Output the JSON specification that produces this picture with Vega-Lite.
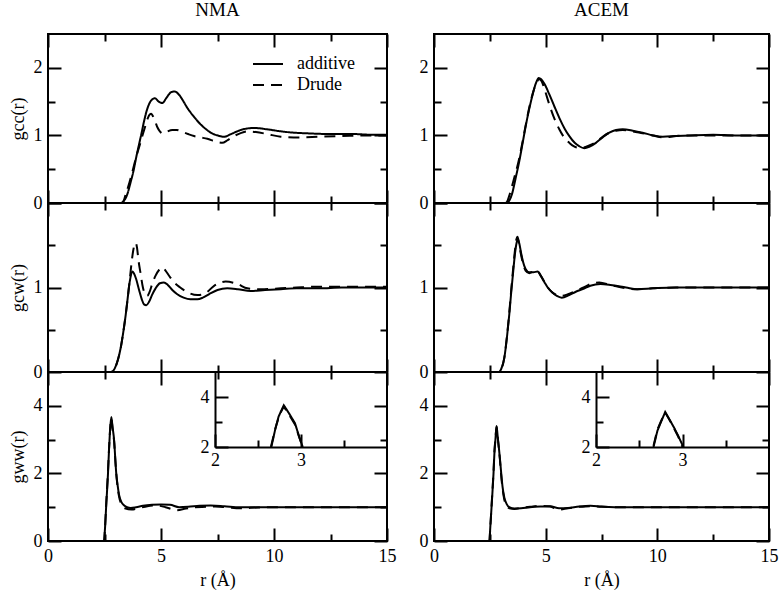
{
"$schema":"https://vega.github.io/schema/vega-lite/v6.json",
"background":"white",
"padding":{"left":8,"top":0,"right":0,"bottom":0},
"data":{"values":[
{"p":"ccN","m":"additive","r":0,"g":0},{"p":"ccN","m":"additive","r":3.2,"g":0},{"p":"ccN","m":"additive","r":3.35,"g":0.03},{"p":"ccN","m":"additive","r":3.51,"g":0.13},{"p":"ccN","m":"additive","r":3.65,"g":0.3},{"p":"ccN","m":"additive","r":3.78,"g":0.47},{"p":"ccN","m":"additive","r":3.9,"g":0.67},{"p":"ccN","m":"additive","r":4.03,"g":0.87},{"p":"ccN","m":"additive","r":4.15,"g":1.05},{"p":"ccN","m":"additive","r":4.25,"g":1.21},{"p":"ccN","m":"additive","r":4.4,"g":1.4},{"p":"ccN","m":"additive","r":4.55,"g":1.51},{"p":"ccN","m":"additive","r":4.73,"g":1.55},{"p":"ccN","m":"additive","r":4.9,"g":1.5},{"p":"ccN","m":"additive","r":5.06,"g":1.48},{"p":"ccN","m":"additive","r":5.25,"g":1.56},{"p":"ccN","m":"additive","r":5.45,"g":1.64},{"p":"ccN","m":"additive","r":5.6,"g":1.65},{"p":"ccN","m":"additive","r":5.8,"g":1.6},{"p":"ccN","m":"additive","r":6.0,"g":1.5},{"p":"ccN","m":"additive","r":6.16,"g":1.41},{"p":"ccN","m":"additive","r":6.45,"g":1.28},{"p":"ccN","m":"additive","r":6.76,"g":1.16},{"p":"ccN","m":"additive","r":7.0,"g":1.09},{"p":"ccN","m":"additive","r":7.2,"g":1.04},{"p":"ccN","m":"additive","r":7.5,"g":1.0},{"p":"ccN","m":"additive","r":7.79,"g":0.98},{"p":"ccN","m":"additive","r":8.1,"g":1.02},{"p":"ccN","m":"additive","r":8.53,"g":1.08},{"p":"ccN","m":"additive","r":9.11,"g":1.11},{"p":"ccN","m":"additive","r":9.7,"g":1.09},{"p":"ccN","m":"additive","r":10.3,"g":1.06},{"p":"ccN","m":"additive","r":10.9,"g":1.04},{"p":"ccN","m":"additive","r":11.5,"g":1.03},{"p":"ccN","m":"additive","r":12.6,"g":1.02},{"p":"ccN","m":"additive","r":13.5,"g":1.02},{"p":"ccN","m":"additive","r":14.3,"g":1.01},{"p":"ccN","m":"additive","r":15,"g":1.01},
{"p":"ccN","m":"Drude","r":0,"g":0},{"p":"ccN","m":"Drude","r":3.3,"g":0},{"p":"ccN","m":"Drude","r":3.44,"g":0.13},{"p":"ccN","m":"Drude","r":3.6,"g":0.3},{"p":"ccN","m":"Drude","r":3.74,"g":0.47},{"p":"ccN","m":"Drude","r":3.9,"g":0.68},{"p":"ccN","m":"Drude","r":4.07,"g":0.87},{"p":"ccN","m":"Drude","r":4.18,"g":1.0},{"p":"ccN","m":"Drude","r":4.28,"g":1.11},{"p":"ccN","m":"Drude","r":4.4,"g":1.24},{"p":"ccN","m":"Drude","r":4.5,"g":1.31},{"p":"ccN","m":"Drude","r":4.57,"g":1.32},{"p":"ccN","m":"Drude","r":4.65,"g":1.28},{"p":"ccN","m":"Drude","r":4.75,"g":1.2},{"p":"ccN","m":"Drude","r":4.84,"g":1.12},{"p":"ccN","m":"Drude","r":4.95,"g":1.06},{"p":"ccN","m":"Drude","r":5.05,"g":1.03},{"p":"ccN","m":"Drude","r":5.13,"g":1.03},{"p":"ccN","m":"Drude","r":5.3,"g":1.06},{"p":"ccN","m":"Drude","r":5.5,"g":1.08},{"p":"ccN","m":"Drude","r":5.7,"g":1.08},{"p":"ccN","m":"Drude","r":5.9,"g":1.06},{"p":"ccN","m":"Drude","r":6.2,"g":1.02},{"p":"ccN","m":"Drude","r":6.46,"g":0.99},{"p":"ccN","m":"Drude","r":6.75,"g":0.97},{"p":"ccN","m":"Drude","r":7.05,"g":0.95},{"p":"ccN","m":"Drude","r":7.4,"g":0.91},{"p":"ccN","m":"Drude","r":7.71,"g":0.89},{"p":"ccN","m":"Drude","r":7.95,"g":0.93},{"p":"ccN","m":"Drude","r":8.23,"g":0.99},{"p":"ccN","m":"Drude","r":8.5,"g":1.03},{"p":"ccN","m":"Drude","r":8.82,"g":1.06},{"p":"ccN","m":"Drude","r":9.2,"g":1.05},{"p":"ccN","m":"Drude","r":9.7,"g":1.02},{"p":"ccN","m":"Drude","r":10.3,"g":0.98},{"p":"ccN","m":"Drude","r":11.1,"g":0.97},{"p":"ccN","m":"Drude","r":12,"g":0.98},{"p":"ccN","m":"Drude","r":13,"g":0.99},{"p":"ccN","m":"Drude","r":14,"g":1.0},{"p":"ccN","m":"Drude","r":15,"g":1.0},
{"p":"ccA","m":"additive","r":0,"g":0},{"p":"ccA","m":"additive","r":3.25,"g":0},{"p":"ccA","m":"additive","r":3.38,"g":0.04},{"p":"ccA","m":"additive","r":3.49,"g":0.13},{"p":"ccA","m":"additive","r":3.65,"g":0.36},{"p":"ccA","m":"additive","r":3.82,"g":0.62},{"p":"ccA","m":"additive","r":3.96,"g":0.87},{"p":"ccA","m":"additive","r":4.09,"g":1.11},{"p":"ccA","m":"additive","r":4.25,"g":1.37},{"p":"ccA","m":"additive","r":4.42,"g":1.61},{"p":"ccA","m":"additive","r":4.56,"g":1.77},{"p":"ccA","m":"additive","r":4.69,"g":1.85},{"p":"ccA","m":"additive","r":4.8,"g":1.83},{"p":"ccA","m":"additive","r":4.95,"g":1.76},{"p":"ccA","m":"additive","r":5.16,"g":1.61},{"p":"ccA","m":"additive","r":5.4,"g":1.42},{"p":"ccA","m":"additive","r":5.61,"g":1.26},{"p":"ccA","m":"additive","r":5.85,"g":1.1},{"p":"ccA","m":"additive","r":6.06,"g":0.99},{"p":"ccA","m":"additive","r":6.3,"g":0.89},{"p":"ccA","m":"additive","r":6.5,"g":0.84},{"p":"ccA","m":"additive","r":6.73,"g":0.81},{"p":"ccA","m":"additive","r":6.95,"g":0.83},{"p":"ccA","m":"additive","r":7.25,"g":0.89},{"p":"ccA","m":"additive","r":7.55,"g":0.97},{"p":"ccA","m":"additive","r":7.85,"g":1.04},{"p":"ccA","m":"additive","r":8.15,"g":1.08},{"p":"ccA","m":"additive","r":8.45,"g":1.09},{"p":"ccA","m":"additive","r":8.9,"g":1.07},{"p":"ccA","m":"additive","r":9.34,"g":1.04},{"p":"ccA","m":"additive","r":9.8,"g":1.0},{"p":"ccA","m":"additive","r":10.24,"g":0.98},{"p":"ccA","m":"additive","r":10.84,"g":0.99},{"p":"ccA","m":"additive","r":11.5,"g":1.0},{"p":"ccA","m":"additive","r":12.5,"g":1.01},{"p":"ccA","m":"additive","r":13.5,"g":1.0},{"p":"ccA","m":"additive","r":15,"g":1.0},
{"p":"ccA","m":"Drude","r":0,"g":0},{"p":"ccA","m":"Drude","r":3.2,"g":0},{"p":"ccA","m":"Drude","r":3.3,"g":0.04},{"p":"ccA","m":"Drude","r":3.39,"g":0.13},{"p":"ccA","m":"Drude","r":3.6,"g":0.38},{"p":"ccA","m":"Drude","r":3.79,"g":0.62},{"p":"ccA","m":"Drude","r":3.95,"g":0.88},{"p":"ccA","m":"Drude","r":4.1,"g":1.14},{"p":"ccA","m":"Drude","r":4.27,"g":1.42},{"p":"ccA","m":"Drude","r":4.44,"g":1.64},{"p":"ccA","m":"Drude","r":4.6,"g":1.79},{"p":"ccA","m":"Drude","r":4.72,"g":1.83},{"p":"ccA","m":"Drude","r":4.82,"g":1.8},{"p":"ccA","m":"Drude","r":4.97,"g":1.66},{"p":"ccA","m":"Drude","r":5.16,"g":1.46},{"p":"ccA","m":"Drude","r":5.4,"g":1.24},{"p":"ccA","m":"Drude","r":5.61,"g":1.09},{"p":"ccA","m":"Drude","r":5.85,"g":0.96},{"p":"ccA","m":"Drude","r":6.06,"g":0.89},{"p":"ccA","m":"Drude","r":6.25,"g":0.84},{"p":"ccA","m":"Drude","r":6.43,"g":0.82},{"p":"ccA","m":"Drude","r":6.65,"g":0.82},{"p":"ccA","m":"Drude","r":6.95,"g":0.85},{"p":"ccA","m":"Drude","r":7.25,"g":0.9},{"p":"ccA","m":"Drude","r":7.55,"g":0.98},{"p":"ccA","m":"Drude","r":7.85,"g":1.04},{"p":"ccA","m":"Drude","r":8.15,"g":1.07},{"p":"ccA","m":"Drude","r":8.45,"g":1.08},{"p":"ccA","m":"Drude","r":8.9,"g":1.06},{"p":"ccA","m":"Drude","r":9.34,"g":1.03},{"p":"ccA","m":"Drude","r":9.8,"g":1.0},{"p":"ccA","m":"Drude","r":10.24,"g":0.97},{"p":"ccA","m":"Drude","r":10.84,"g":0.99},{"p":"ccA","m":"Drude","r":11.5,"g":1.0},{"p":"ccA","m":"Drude","r":12.5,"g":1.0},{"p":"ccA","m":"Drude","r":13.5,"g":1.0},{"p":"ccA","m":"Drude","r":15,"g":1.0},
{"p":"cwN","m":"additive","r":0,"g":0},{"p":"cwN","m":"additive","r":2.8,"g":0},{"p":"cwN","m":"additive","r":2.95,"g":0.04},{"p":"cwN","m":"additive","r":3.1,"g":0.15},{"p":"cwN","m":"additive","r":3.22,"g":0.29},{"p":"cwN","m":"additive","r":3.33,"g":0.47},{"p":"cwN","m":"additive","r":3.44,"g":0.68},{"p":"cwN","m":"additive","r":3.52,"g":0.86},{"p":"cwN","m":"additive","r":3.58,"g":1.0},{"p":"cwN","m":"additive","r":3.65,"g":1.12},{"p":"cwN","m":"additive","r":3.73,"g":1.19},{"p":"cwN","m":"additive","r":3.8,"g":1.17},{"p":"cwN","m":"additive","r":3.9,"g":1.1},{"p":"cwN","m":"additive","r":4.03,"g":0.97},{"p":"cwN","m":"additive","r":4.15,"g":0.86},{"p":"cwN","m":"additive","r":4.25,"g":0.8},{"p":"cwN","m":"additive","r":4.35,"g":0.79},{"p":"cwN","m":"additive","r":4.47,"g":0.83},{"p":"cwN","m":"additive","r":4.6,"g":0.91},{"p":"cwN","m":"additive","r":4.76,"g":0.99},{"p":"cwN","m":"additive","r":4.95,"g":1.05},{"p":"cwN","m":"additive","r":5.13,"g":1.06},{"p":"cwN","m":"additive","r":5.3,"g":1.03},{"p":"cwN","m":"additive","r":5.5,"g":0.97},{"p":"cwN","m":"additive","r":5.72,"g":0.92},{"p":"cwN","m":"additive","r":6.0,"g":0.88},{"p":"cwN","m":"additive","r":6.3,"g":0.86},{"p":"cwN","m":"additive","r":6.61,"g":0.86},{"p":"cwN","m":"additive","r":6.85,"g":0.88},{"p":"cwN","m":"additive","r":7.12,"g":0.92},{"p":"cwN","m":"additive","r":7.5,"g":0.97},{"p":"cwN","m":"additive","r":7.93,"g":0.99},{"p":"cwN","m":"additive","r":8.4,"g":0.98},{"p":"cwN","m":"additive","r":8.97,"g":0.96},{"p":"cwN","m":"additive","r":9.6,"g":0.97},{"p":"cwN","m":"additive","r":10.3,"g":0.98},{"p":"cwN","m":"additive","r":11,"g":0.99},{"p":"cwN","m":"additive","r":12,"g":0.99},{"p":"cwN","m":"additive","r":13,"g":1.0},{"p":"cwN","m":"additive","r":15,"g":1.0},
{"p":"cwN","m":"Drude","r":0,"g":0},{"p":"cwN","m":"Drude","r":2.8,"g":0},{"p":"cwN","m":"Drude","r":2.95,"g":0.04},{"p":"cwN","m":"Drude","r":3.1,"g":0.15},{"p":"cwN","m":"Drude","r":3.22,"g":0.29},{"p":"cwN","m":"Drude","r":3.33,"g":0.47},{"p":"cwN","m":"Drude","r":3.44,"g":0.68},{"p":"cwN","m":"Drude","r":3.53,"g":0.88},{"p":"cwN","m":"Drude","r":3.6,"g":1.05},{"p":"cwN","m":"Drude","r":3.68,"g":1.25},{"p":"cwN","m":"Drude","r":3.76,"g":1.42},{"p":"cwN","m":"Drude","r":3.83,"g":1.51},{"p":"cwN","m":"Drude","r":3.88,"g":1.53},{"p":"cwN","m":"Drude","r":3.94,"g":1.47},{"p":"cwN","m":"Drude","r":4.0,"g":1.33},{"p":"cwN","m":"Drude","r":4.1,"g":1.16},{"p":"cwN","m":"Drude","r":4.2,"g":1.0},{"p":"cwN","m":"Drude","r":4.3,"g":0.92},{"p":"cwN","m":"Drude","r":4.39,"g":0.9},{"p":"cwN","m":"Drude","r":4.5,"g":0.95},{"p":"cwN","m":"Drude","r":4.62,"g":1.05},{"p":"cwN","m":"Drude","r":4.76,"g":1.14},{"p":"cwN","m":"Drude","r":4.92,"g":1.21},{"p":"cwN","m":"Drude","r":5.06,"g":1.24},{"p":"cwN","m":"Drude","r":5.2,"g":1.2},{"p":"cwN","m":"Drude","r":5.38,"g":1.13},{"p":"cwN","m":"Drude","r":5.58,"g":1.06},{"p":"cwN","m":"Drude","r":5.85,"g":1.0},{"p":"cwN","m":"Drude","r":6.2,"g":0.94},{"p":"cwN","m":"Drude","r":6.61,"g":0.91},{"p":"cwN","m":"Drude","r":6.95,"g":0.93},{"p":"cwN","m":"Drude","r":7.35,"g":1.02},{"p":"cwN","m":"Drude","r":7.86,"g":1.07},{"p":"cwN","m":"Drude","r":8.4,"g":1.04},{"p":"cwN","m":"Drude","r":8.82,"g":0.99},{"p":"cwN","m":"Drude","r":9.4,"g":0.98},{"p":"cwN","m":"Drude","r":10.3,"g":0.99},{"p":"cwN","m":"Drude","r":11,"g":1.0},{"p":"cwN","m":"Drude","r":12,"g":1.01},{"p":"cwN","m":"Drude","r":13,"g":1.01},{"p":"cwN","m":"Drude","r":15,"g":1.01},
{"p":"cwA","m":"additive","r":0,"g":0},{"p":"cwA","m":"additive","r":2.9,"g":0},{"p":"cwA","m":"additive","r":3.0,"g":0.03},{"p":"cwA","m":"additive","r":3.15,"g":0.17},{"p":"cwA","m":"additive","r":3.27,"g":0.42},{"p":"cwA","m":"additive","r":3.37,"g":0.68},{"p":"cwA","m":"additive","r":3.46,"g":0.95},{"p":"cwA","m":"additive","r":3.55,"g":1.2},{"p":"cwA","m":"additive","r":3.63,"g":1.41},{"p":"cwA","m":"additive","r":3.7,"g":1.53},{"p":"cwA","m":"additive","r":3.76,"g":1.57},{"p":"cwA","m":"additive","r":3.82,"g":1.52},{"p":"cwA","m":"additive","r":3.9,"g":1.41},{"p":"cwA","m":"additive","r":3.98,"g":1.31},{"p":"cwA","m":"additive","r":4.1,"g":1.22},{"p":"cwA","m":"additive","r":4.27,"g":1.18},{"p":"cwA","m":"additive","r":4.45,"g":1.18},{"p":"cwA","m":"additive","r":4.64,"g":1.19},{"p":"cwA","m":"additive","r":4.8,"g":1.13},{"p":"cwA","m":"additive","r":4.95,"g":1.06},{"p":"cwA","m":"additive","r":5.09,"g":1.0},{"p":"cwA","m":"additive","r":5.3,"g":0.94},{"p":"cwA","m":"additive","r":5.5,"g":0.9},{"p":"cwA","m":"additive","r":5.72,"g":0.88},{"p":"cwA","m":"additive","r":6.05,"g":0.91},{"p":"cwA","m":"additive","r":6.35,"g":0.95},{"p":"cwA","m":"additive","r":6.66,"g":0.98},{"p":"cwA","m":"additive","r":7.0,"g":1.02},{"p":"cwA","m":"additive","r":7.45,"g":1.04},{"p":"cwA","m":"additive","r":7.9,"g":1.03},{"p":"cwA","m":"additive","r":8.6,"g":1.0},{"p":"cwA","m":"additive","r":9.1,"g":0.98},{"p":"cwA","m":"additive","r":9.8,"g":0.99},{"p":"cwA","m":"additive","r":10.84,"g":1.0},{"p":"cwA","m":"additive","r":12,"g":1.0},{"p":"cwA","m":"additive","r":13.5,"g":1.0},{"p":"cwA","m":"additive","r":15,"g":1.0},
{"p":"cwA","m":"Drude","r":0,"g":0},{"p":"cwA","m":"Drude","r":2.9,"g":0},{"p":"cwA","m":"Drude","r":3.0,"g":0.03},{"p":"cwA","m":"Drude","r":3.15,"g":0.17},{"p":"cwA","m":"Drude","r":3.27,"g":0.43},{"p":"cwA","m":"Drude","r":3.37,"g":0.7},{"p":"cwA","m":"Drude","r":3.46,"g":0.98},{"p":"cwA","m":"Drude","r":3.55,"g":1.24},{"p":"cwA","m":"Drude","r":3.63,"g":1.45},{"p":"cwA","m":"Drude","r":3.69,"g":1.57},{"p":"cwA","m":"Drude","r":3.74,"g":1.6},{"p":"cwA","m":"Drude","r":3.8,"g":1.53},{"p":"cwA","m":"Drude","r":3.88,"g":1.41},{"p":"cwA","m":"Drude","r":3.97,"g":1.3},{"p":"cwA","m":"Drude","r":4.1,"g":1.2},{"p":"cwA","m":"Drude","r":4.27,"g":1.17},{"p":"cwA","m":"Drude","r":4.45,"g":1.19},{"p":"cwA","m":"Drude","r":4.6,"g":1.2},{"p":"cwA","m":"Drude","r":4.78,"g":1.14},{"p":"cwA","m":"Drude","r":4.95,"g":1.06},{"p":"cwA","m":"Drude","r":5.1,"g":1.0},{"p":"cwA","m":"Drude","r":5.3,"g":0.94},{"p":"cwA","m":"Drude","r":5.5,"g":0.91},{"p":"cwA","m":"Drude","r":5.7,"g":0.9},{"p":"cwA","m":"Drude","r":6.0,"g":0.92},{"p":"cwA","m":"Drude","r":6.35,"g":0.96},{"p":"cwA","m":"Drude","r":6.7,"g":1.0},{"p":"cwA","m":"Drude","r":7.0,"g":1.04},{"p":"cwA","m":"Drude","r":7.4,"g":1.06},{"p":"cwA","m":"Drude","r":7.9,"g":1.03},{"p":"cwA","m":"Drude","r":8.6,"g":0.99},{"p":"cwA","m":"Drude","r":9.1,"g":0.98},{"p":"cwA","m":"Drude","r":9.8,"g":0.99},{"p":"cwA","m":"Drude","r":10.84,"g":1.0},{"p":"cwA","m":"Drude","r":12,"g":1.0},{"p":"cwA","m":"Drude","r":13.5,"g":1.0},{"p":"cwA","m":"Drude","r":15,"g":1.0},
{"p":"wwN","m":"additive","r":0,"g":0},{"p":"wwN","m":"additive","r":2.48,"g":0},{"p":"wwN","m":"additive","r":2.52,"g":0.35},{"p":"wwN","m":"additive","r":2.58,"g":1.1},{"p":"wwN","m":"additive","r":2.655,"g":2.0},{"p":"wwN","m":"additive","r":2.7,"g":2.7},{"p":"wwN","m":"additive","r":2.74,"g":3.22},{"p":"wwN","m":"additive","r":2.8,"g":3.67},{"p":"wwN","m":"additive","r":2.86,"g":3.35},{"p":"wwN","m":"additive","r":2.93,"g":2.95},{"p":"wwN","m":"additive","r":2.98,"g":2.4},{"p":"wwN","m":"additive","r":3.02,"g":2.0},{"p":"wwN","m":"additive","r":3.08,"g":1.65},{"p":"wwN","m":"additive","r":3.14,"g":1.38},{"p":"wwN","m":"additive","r":3.25,"g":1.15},{"p":"wwN","m":"additive","r":3.36,"g":1.06},{"p":"wwN","m":"additive","r":3.5,"g":1.0},{"p":"wwN","m":"additive","r":3.66,"g":0.98},{"p":"wwN","m":"additive","r":3.9,"g":1.0},{"p":"wwN","m":"additive","r":4.2,"g":1.04},{"p":"wwN","m":"additive","r":4.6,"g":1.07},{"p":"wwN","m":"additive","r":5.0,"g":1.08},{"p":"wwN","m":"additive","r":5.4,"g":1.07},{"p":"wwN","m":"additive","r":5.8,"g":1.0},{"p":"wwN","m":"additive","r":6.2,"g":1.01},{"p":"wwN","m":"additive","r":6.7,"g":1.04},{"p":"wwN","m":"additive","r":7.2,"g":1.05},{"p":"wwN","m":"additive","r":7.8,"g":1.03},{"p":"wwN","m":"additive","r":8.5,"g":1.0},{"p":"wwN","m":"additive","r":9.5,"g":1.0},{"p":"wwN","m":"additive","r":11,"g":1.0},{"p":"wwN","m":"additive","r":13,"g":1.0},{"p":"wwN","m":"additive","r":15,"g":1.0},
{"p":"wwN","m":"Drude","r":0,"g":0},{"p":"wwN","m":"Drude","r":2.48,"g":0},{"p":"wwN","m":"Drude","r":2.52,"g":0.35},{"p":"wwN","m":"Drude","r":2.58,"g":1.15},{"p":"wwN","m":"Drude","r":2.65,"g":2.0},{"p":"wwN","m":"Drude","r":2.7,"g":2.72},{"p":"wwN","m":"Drude","r":2.75,"g":3.3},{"p":"wwN","m":"Drude","r":2.8,"g":3.62},{"p":"wwN","m":"Drude","r":2.86,"g":3.3},{"p":"wwN","m":"Drude","r":2.93,"g":2.9},{"p":"wwN","m":"Drude","r":2.98,"g":2.38},{"p":"wwN","m":"Drude","r":3.02,"g":2.0},{"p":"wwN","m":"Drude","r":3.08,"g":1.6},{"p":"wwN","m":"Drude","r":3.14,"g":1.33},{"p":"wwN","m":"Drude","r":3.25,"g":1.08},{"p":"wwN","m":"Drude","r":3.4,"g":0.97},{"p":"wwN","m":"Drude","r":3.7,"g":0.93},{"p":"wwN","m":"Drude","r":4.0,"g":0.97},{"p":"wwN","m":"Drude","r":4.4,"g":1.03},{"p":"wwN","m":"Drude","r":4.8,"g":1.05},{"p":"wwN","m":"Drude","r":5.2,"g":1.0},{"p":"wwN","m":"Drude","r":5.7,"g":0.91},{"p":"wwN","m":"Drude","r":6.1,"g":0.96},{"p":"wwN","m":"Drude","r":6.5,"g":1.0},{"p":"wwN","m":"Drude","r":7.0,"g":1.01},{"p":"wwN","m":"Drude","r":7.4,"g":1.02},{"p":"wwN","m":"Drude","r":7.9,"g":1.0},{"p":"wwN","m":"Drude","r":8.5,"g":0.97},{"p":"wwN","m":"Drude","r":9.3,"g":0.99},{"p":"wwN","m":"Drude","r":10.5,"g":1.0},{"p":"wwN","m":"Drude","r":12,"g":1.0},{"p":"wwN","m":"Drude","r":15,"g":1.0},
{"p":"wwA","m":"additive","r":0,"g":0},{"p":"wwA","m":"additive","r":2.48,"g":0},{"p":"wwA","m":"additive","r":2.52,"g":0.4},{"p":"wwA","m":"additive","r":2.6,"g":1.25},{"p":"wwA","m":"additive","r":2.665,"g":2.0},{"p":"wwA","m":"additive","r":2.71,"g":2.65},{"p":"wwA","m":"additive","r":2.75,"g":2.99},{"p":"wwA","m":"additive","r":2.8,"g":3.4},{"p":"wwA","m":"additive","r":2.85,"g":3.1},{"p":"wwA","m":"additive","r":2.9,"g":2.79},{"p":"wwA","m":"additive","r":2.95,"g":2.45},{"p":"wwA","m":"additive","r":3.01,"g":2.0},{"p":"wwA","m":"additive","r":3.07,"g":1.6},{"p":"wwA","m":"additive","r":3.15,"g":1.28},{"p":"wwA","m":"additive","r":3.25,"g":1.1},{"p":"wwA","m":"additive","r":3.37,"g":1.0},{"p":"wwA","m":"additive","r":3.6,"g":0.96},{"p":"wwA","m":"additive","r":3.9,"g":0.97},{"p":"wwA","m":"additive","r":4.3,"g":1.0},{"p":"wwA","m":"additive","r":4.8,"g":1.02},{"p":"wwA","m":"additive","r":5.2,"g":1.03},{"p":"wwA","m":"additive","r":5.6,"g":0.97},{"p":"wwA","m":"additive","r":6.0,"g":0.98},{"p":"wwA","m":"additive","r":6.5,"g":1.02},{"p":"wwA","m":"additive","r":7.0,"g":1.04},{"p":"wwA","m":"additive","r":7.5,"g":1.02},{"p":"wwA","m":"additive","r":8.2,"g":1.0},{"p":"wwA","m":"additive","r":9.5,"g":1.0},{"p":"wwA","m":"additive","r":11,"g":1.0},{"p":"wwA","m":"additive","r":15,"g":1.0},
{"p":"wwA","m":"Drude","r":0,"g":0},{"p":"wwA","m":"Drude","r":2.48,"g":0},{"p":"wwA","m":"Drude","r":2.52,"g":0.4},{"p":"wwA","m":"Drude","r":2.6,"g":1.3},{"p":"wwA","m":"Drude","r":2.665,"g":2.05},{"p":"wwA","m":"Drude","r":2.71,"g":2.7},{"p":"wwA","m":"Drude","r":2.75,"g":3.02},{"p":"wwA","m":"Drude","r":2.8,"g":3.38},{"p":"wwA","m":"Drude","r":2.85,"g":3.08},{"p":"wwA","m":"Drude","r":2.9,"g":2.76},{"p":"wwA","m":"Drude","r":2.95,"g":2.42},{"p":"wwA","m":"Drude","r":3.0,"g":2.0},{"p":"wwA","m":"Drude","r":3.07,"g":1.55},{"p":"wwA","m":"Drude","r":3.15,"g":1.22},{"p":"wwA","m":"Drude","r":3.25,"g":1.05},{"p":"wwA","m":"Drude","r":3.37,"g":0.97},{"p":"wwA","m":"Drude","r":3.6,"g":0.95},{"p":"wwA","m":"Drude","r":3.9,"g":0.98},{"p":"wwA","m":"Drude","r":4.3,"g":1.01},{"p":"wwA","m":"Drude","r":4.8,"g":1.04},{"p":"wwA","m":"Drude","r":5.2,"g":1.02},{"p":"wwA","m":"Drude","r":5.6,"g":0.93},{"p":"wwA","m":"Drude","r":6.0,"g":0.97},{"p":"wwA","m":"Drude","r":6.5,"g":1.01},{"p":"wwA","m":"Drude","r":7.0,"g":1.03},{"p":"wwA","m":"Drude","r":7.5,"g":1.01},{"p":"wwA","m":"Drude","r":8.2,"g":1.0},{"p":"wwA","m":"Drude","r":9.5,"g":1.0},{"p":"wwA","m":"Drude","r":11,"g":1.0},{"p":"wwA","m":"Drude","r":15,"g":1.0}
]},
"hconcat":[
{"vconcat":[
{"width":339,"height":169,"title":{"text":"NMA","offset":13},
 "layer":[
 {"transform":[{"filter":"datum.p==='ccN' && datum.m==='additive'"}],"mark":{"type":"line"},
  "encoding":{
   "x":{"field":"r","type":"quantitative","scale":{"domain":[0,15]},"axis":{"orient":"bottom","values":[0,2.5,5,7.5,10,12.5,15],"tickSize":{"condition":{"test":"datum.value % 5 === 0","value":-13},"value":-7},"labels":false,"title":null}},
   "y":{"field":"g","type":"quantitative","scale":{"domain":[0,2.5]},"axis":{"orient":"left","values":[0,0.5,1,1.5,2],"tickSize":{"condition":{"test":"datum.value % 1 === 0","value":-13},"value":-7},"labelExpr":"datum.value % 1 === 0 ? '' + datum.value : ''","title":"gcc(r)"}},
   "strokeDash":{"field":"m","type":"nominal","scale":{"domain":["additive","Drude"],"range":[[1,0],[11,7]]},"legend":{"orient":"none","legendX":209,"legendY":19,"padding":0,"title":null,"labelFontSize":18,"labelFont":"Liberation Serif","labelColor":"black","symbolType":"M-1.5,0L1.5,0","symbolSize":400,"symbolStrokeWidth":2,"symbolStrokeColor":"black","labelOffset":18,"rowPadding":1}}}},
 {"transform":[{"filter":"datum.p==='ccN' && datum.m==='Drude'"}],"mark":{"type":"line"},
  "encoding":{
   "x":{"field":"r","type":"quantitative","scale":{"domain":[0,15]},"axis":{"orient":"top","values":[0,2.5,5,7.5,10,12.5,15],"tickSize":{"condition":{"test":"datum.value % 5 === 0","value":-13},"value":-7},"labels":false,"title":null}},
   "y":{"field":"g","type":"quantitative","scale":{"domain":[0,2.5]},"axis":{"orient":"right","values":[0,0.5,1,1.5,2],"tickSize":{"condition":{"test":"datum.value % 1 === 0","value":-13},"value":-7},"labels":false,"title":null}},
   "strokeDash":{"field":"m","type":"nominal","scale":{"domain":["additive","Drude"],"range":[[1,0],[11,7]]},"legend":{"orient":"none","legendX":209,"legendY":19,"padding":0,"title":null,"labelFontSize":18,"labelFont":"Liberation Serif","labelColor":"black","symbolType":"M-1.5,0L1.5,0","symbolSize":400,"symbolStrokeWidth":2,"symbolStrokeColor":"black","labelOffset":18,"rowPadding":1}}}}
 ],
 "resolve":{"axis":{"x":"independent","y":"independent"}}},
{"width":339,"height":169,
 "layer":[
 {"transform":[{"filter":"datum.p==='cwN' && datum.m==='additive'"}],"mark":{"type":"line"},
  "encoding":{
   "x":{"field":"r","type":"quantitative","scale":{"domain":[0,15]},"axis":{"orient":"bottom","values":[0,2.5,5,7.5,10,12.5,15],"tickSize":{"condition":{"test":"datum.value % 5 === 0","value":-13},"value":-7},"labels":false,"title":null}},
   "y":{"field":"g","type":"quantitative","scale":{"domain":[0,2]},"axis":{"orient":"left","values":[0,0.5,1,1.5,2],"tickSize":{"condition":{"test":"datum.value % 1 === 0","value":-13},"value":-7},"labelExpr":"datum.value % 1 === 0 && datum.value < 2 ? '' + datum.value : ''","title":"gcw(r)"}}}},
 {"transform":[{"filter":"datum.p==='cwN' && datum.m==='Drude'"}],"mark":{"type":"line","strokeDash":[11,7]},
  "encoding":{
   "x":{"field":"r","type":"quantitative","scale":{"domain":[0,15]},"axis":{"orient":"top","values":[0,2.5,5,7.5,10,12.5,15],"tickSize":{"condition":{"test":"datum.value % 5 === 0","value":-13},"value":-7},"labels":false,"title":null}},
   "y":{"field":"g","type":"quantitative","scale":{"domain":[0,2]},"axis":{"orient":"right","values":[0,0.5,1,1.5,2],"tickSize":{"condition":{"test":"datum.value % 1 === 0","value":-13},"value":-7},"labels":false,"title":null}}}}
 ],
 "resolve":{"axis":{"x":"independent","y":"independent"}}},
{"width":339,"height":169,
 "layer":[
 {"transform":[{"filter":"datum.p==='wwN' && datum.m==='additive'"}],"mark":{"type":"line"},
  "encoding":{
   "x":{"field":"r","type":"quantitative","scale":{"domain":[0,15]},"axis":{"orient":"bottom","values":[0,2.5,5,7.5,10,12.5,15],"tickSize":{"condition":{"test":"datum.value % 5 === 0","value":-13},"value":-7},"labelExpr":"datum.value % 5 === 0 ? '' + datum.value : ''","title":"r (Å)","titlePadding":0}},
   "y":{"field":"g","type":"quantitative","scale":{"domain":[0,5]},"axis":{"orient":"left","values":[0,1,2,3,4],"tickSize":{"condition":{"test":"datum.value % 2 === 0","value":-13},"value":-7},"labelExpr":"datum.value % 2 === 0 ? '' + datum.value : ''","title":"gww(r)"}}}},
 {"transform":[{"filter":"datum.p==='wwN' && datum.m==='Drude'"}],"mark":{"type":"line","strokeDash":[11,7]},
  "encoding":{
   "x":{"field":"r","type":"quantitative","scale":{"domain":[0,15]},"axis":{"orient":"top","values":[0,2.5,5,7.5,10,12.5,15],"tickSize":{"condition":{"test":"datum.value % 5 === 0","value":-13},"value":-7},"labels":false,"title":null}},
   "y":{"field":"g","type":"quantitative","scale":{"domain":[0,5]},"axis":{"orient":"right","values":[0,1,2,3,4],"tickSize":{"condition":{"test":"datum.value % 2 === 0","value":-13},"value":-7},"labels":false,"title":null}}}},
 {"transform":[{"filter":"datum.p==='wwN' && datum.r>=2 && datum.r<=4 && datum.g>=2"}],"mark":{"type":"line","interpolate":"linear"},
  "encoding":{
   "x":{"field":"r","type":"quantitative","scale":{"domain":[2,4],"range":[167,339]},"axis":{"orient":"bottom","offset":-94,"values":[2,2.5,3,3.5],"tickSize":{"condition":{"test":"datum.value % 1 === 0","value":-13},"value":-7},"labelExpr":"datum.value % 1 === 0 ? '' + datum.value : ''","labelPadding":17,"domain":true,"domainColor":"black","domainWidth":2,"title":null}},
   "y":{"field":"g","type":"quantitative","scale":{"domain":[2,5],"range":[75,0]},"axis":{"orient":"left","offset":-167,"values":[2,3,4],"tickSize":{"condition":{"test":"datum.value % 2 === 0","value":-13},"value":-7},"labelExpr":"datum.value % 2 === 0 ? '' + datum.value : ''","labelPadding":19,"domain":true,"domainColor":"black","domainWidth":2,"title":null}},
   "strokeDash":{"field":"m","type":"nominal","scale":{"domain":["additive","Drude"],"range":[[1,0],[11,7]]},"legend":null}}}
 ],
 "resolve":{"scale":{"x":"independent","y":"independent"},"axis":{"x":"independent","y":"independent"}}}
],"spacing":0,"bounds":"flush","resolve":{"scale":{"strokeDash":"independent"},"legend":{"strokeDash":"independent"}}},
{"vconcat":[
{"width":335,"height":169,"title":{"text":"ACEM","offset":13},
 "layer":[
 {"transform":[{"filter":"datum.p==='ccA' && datum.m==='additive'"}],"mark":{"type":"line"},
  "encoding":{
   "x":{"field":"r","type":"quantitative","scale":{"domain":[0,15]},"axis":{"orient":"bottom","values":[0,2.5,5,7.5,10,12.5,15],"tickSize":{"condition":{"test":"datum.value % 5 === 0","value":-13},"value":-7},"labels":false,"title":null}},
   "y":{"field":"g","type":"quantitative","scale":{"domain":[0,2.5]},"axis":{"orient":"left","values":[0,0.5,1,1.5,2],"tickSize":{"condition":{"test":"datum.value % 1 === 0","value":-13},"value":-7},"labelExpr":"datum.value % 1 === 0 ? '' + datum.value : ''","title":null}}}},
 {"transform":[{"filter":"datum.p==='ccA' && datum.m==='Drude'"}],"mark":{"type":"line","strokeDash":[11,7]},
  "encoding":{
   "x":{"field":"r","type":"quantitative","scale":{"domain":[0,15]},"axis":{"orient":"top","values":[0,2.5,5,7.5,10,12.5,15],"tickSize":{"condition":{"test":"datum.value % 5 === 0","value":-13},"value":-7},"labels":false,"title":null}},
   "y":{"field":"g","type":"quantitative","scale":{"domain":[0,2.5]},"axis":{"orient":"right","values":[0,0.5,1,1.5,2],"tickSize":{"condition":{"test":"datum.value % 1 === 0","value":-13},"value":-7},"labels":false,"title":null}}}}
 ],
 "resolve":{"axis":{"x":"independent","y":"independent"}}},
{"width":335,"height":169,
 "layer":[
 {"transform":[{"filter":"datum.p==='cwA' && datum.m==='additive'"}],"mark":{"type":"line"},
  "encoding":{
   "x":{"field":"r","type":"quantitative","scale":{"domain":[0,15]},"axis":{"orient":"bottom","values":[0,2.5,5,7.5,10,12.5,15],"tickSize":{"condition":{"test":"datum.value % 5 === 0","value":-13},"value":-7},"labels":false,"title":null}},
   "y":{"field":"g","type":"quantitative","scale":{"domain":[0,2]},"axis":{"orient":"left","values":[0,0.5,1,1.5,2],"tickSize":{"condition":{"test":"datum.value % 1 === 0","value":-13},"value":-7},"labelExpr":"datum.value % 1 === 0 && datum.value < 2 ? '' + datum.value : ''","title":null}}}},
 {"transform":[{"filter":"datum.p==='cwA' && datum.m==='Drude'"}],"mark":{"type":"line","strokeDash":[11,7]},
  "encoding":{
   "x":{"field":"r","type":"quantitative","scale":{"domain":[0,15]},"axis":{"orient":"top","values":[0,2.5,5,7.5,10,12.5,15],"tickSize":{"condition":{"test":"datum.value % 5 === 0","value":-13},"value":-7},"labels":false,"title":null}},
   "y":{"field":"g","type":"quantitative","scale":{"domain":[0,2]},"axis":{"orient":"right","values":[0,0.5,1,1.5,2],"tickSize":{"condition":{"test":"datum.value % 1 === 0","value":-13},"value":-7},"labels":false,"title":null}}}}
 ],
 "resolve":{"axis":{"x":"independent","y":"independent"}}},
{"width":335,"height":169,
 "layer":[
 {"transform":[{"filter":"datum.p==='wwA' && datum.m==='additive'"}],"mark":{"type":"line"},
  "encoding":{
   "x":{"field":"r","type":"quantitative","scale":{"domain":[0,15]},"axis":{"orient":"bottom","values":[0,2.5,5,7.5,10,12.5,15],"tickSize":{"condition":{"test":"datum.value % 5 === 0","value":-13},"value":-7},"labelExpr":"datum.value % 5 === 0 ? '' + datum.value : ''","title":"r (Å)","titlePadding":0}},
   "y":{"field":"g","type":"quantitative","scale":{"domain":[0,5]},"axis":{"orient":"left","values":[0,1,2,3,4],"tickSize":{"condition":{"test":"datum.value % 2 === 0","value":-13},"value":-7},"labelExpr":"datum.value % 2 === 0 ? '' + datum.value : ''","title":null}}}},
 {"transform":[{"filter":"datum.p==='wwA' && datum.m==='Drude'"}],"mark":{"type":"line","strokeDash":[11,7]},
  "encoding":{
   "x":{"field":"r","type":"quantitative","scale":{"domain":[0,15]},"axis":{"orient":"top","values":[0,2.5,5,7.5,10,12.5,15],"tickSize":{"condition":{"test":"datum.value % 5 === 0","value":-13},"value":-7},"labels":false,"title":null}},
   "y":{"field":"g","type":"quantitative","scale":{"domain":[0,5]},"axis":{"orient":"right","values":[0,1,2,3,4],"tickSize":{"condition":{"test":"datum.value % 2 === 0","value":-13},"value":-7},"labels":false,"title":null}}}},
 {"transform":[{"filter":"datum.p==='wwA' && datum.r>=2 && datum.r<=4 && datum.g>=2"}],"mark":{"type":"line","interpolate":"linear"},
  "encoding":{
   "x":{"field":"r","type":"quantitative","scale":{"domain":[2,4],"range":[162,335]},"axis":{"orient":"bottom","offset":-94,"values":[2,2.5,3,3.5],"tickSize":{"condition":{"test":"datum.value % 1 === 0","value":-13},"value":-7},"labelExpr":"datum.value % 1 === 0 ? '' + datum.value : ''","labelPadding":17,"domain":true,"domainColor":"black","domainWidth":2,"title":null}},
   "y":{"field":"g","type":"quantitative","scale":{"domain":[2,5],"range":[75,0]},"axis":{"orient":"left","offset":-162,"values":[2,3,4],"tickSize":{"condition":{"test":"datum.value % 2 === 0","value":-13},"value":-7},"labelExpr":"datum.value % 2 === 0 ? '' + datum.value : ''","labelPadding":19,"domain":true,"domainColor":"black","domainWidth":2,"title":null}},
   "strokeDash":{"field":"m","type":"nominal","scale":{"domain":["additive","Drude"],"range":[[1,0],[11,7]]},"legend":null}}}
 ],
 "resolve":{"scale":{"x":"independent","y":"independent"},"axis":{"x":"independent","y":"independent"}}}
],"spacing":0,"bounds":"flush","resolve":{"scale":{"strokeDash":"independent"},"legend":{"strokeDash":"independent"}}}
],
"spacing":21,
"resolve":{"scale":{"strokeDash":"independent"},"legend":{"strokeDash":"independent"}},
"config":{
 "font":"Liberation Serif",
 "view":{"stroke":"black","strokeWidth":2},
 "axis":{"grid":false,"domain":false,"tickColor":"black","tickWidth":2,"labelColor":"black","labelFont":"Liberation Serif","labelFontSize":18,"titleFont":"Liberation Serif","titleFontSize":18,"titleFontWeight":"normal","titleColor":"black","labelFlush":false,"labelOverlap":false,"labelPadding":19,"titlePadding":6},
 "title":{"font":"Liberation Serif","fontSize":19,"fontWeight":"normal","color":"black","anchor":"middle","frame":"group"},
 "line":{"color":"black","strokeWidth":2,"interpolate":"monotone"}
}
}
